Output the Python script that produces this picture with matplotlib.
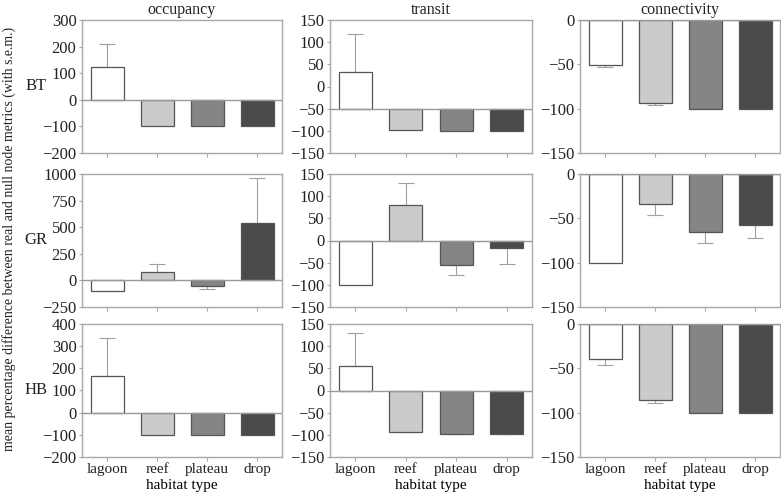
import matplotlib
matplotlib.use("Agg")
import matplotlib.pyplot as plt
import numpy as np

plt.rcParams['font.family'] = ['Liberation Serif', 'DejaVu Serif']

categories = ["lagoon", "reef", "plateau", "drop"]
metrics = ["occupancy", "transit", "connectivity"]
species = ["BT", "GR", "HB"]
colors = ["#ffffff", "#cbcbcb", "#858588", "#4a4a4a"]

# mean values per (species, metric)
bt_occupancy = [125, -100, -100, -100]
bt_occupancy_sem = [85, 0, 0, 0]
bt_transit = [33, -99, -100, -100]
bt_transit_sem = [85, 0, 0, 0]
bt_connectivity = [-51, -94, -100, -100]
bt_connectivity_sem = [2, 2, 0, 0]

gr_occupancy = [-100, 80, -50, 540]
gr_occupancy_sem = [0, 70, 30, 425]
gr_transit = [-100, 80, -55, -18]
gr_transit_sem = [0, 50, 22, 36]
gr_connectivity = [-100, -34, -65, -57]
gr_connectivity_sem = [0, 12, 13, 15]

hb_occupancy = [165, -100, -100, -100]
hb_occupancy_sem = [170, 0, 0, 0]
hb_transit = [55, -93, -98, -98]
hb_transit_sem = [75, 1, 1, 1]
hb_connectivity = [-39, -86, -100, -100]
hb_connectivity_sem = [7, 3, 0, 0]

values = [[bt_occupancy, bt_transit, bt_connectivity],
          [gr_occupancy, gr_transit, gr_connectivity],
          [hb_occupancy, hb_transit, hb_connectivity]]
sems = [[bt_occupancy_sem, bt_transit_sem, bt_connectivity_sem],
        [gr_occupancy_sem, gr_transit_sem, gr_connectivity_sem],
        [hb_occupancy_sem, hb_transit_sem, hb_connectivity_sem]]
baselines = [[0, -50, 0], [0, 0, 0], [0, 0, 0]]
yticks = [[np.arange(-200, 301, 100), np.arange(-150, 151, 50), np.arange(-150, 1, 50)],
          [np.arange(-250, 1001, 250), np.arange(-150, 151, 50), np.arange(-150, 1, 50)],
          [np.arange(-200, 401, 100), np.arange(-150, 151, 50), np.arange(-150, 1, 50)]]

W, H = 781, 493
fig = plt.figure(figsize=(W / 100, H / 100), dpi=100)

col_x = [(82, 282), (330, 532), (580, 780)]
row_y = [(20, 153), (174, 307), (324, 457)]
spine_c = "#a8a8a8"
fs = 12
txt_c = "#222222"

x = np.arange(len(categories))
for r in range(3):
    for c in range(3):
        x0, x1 = col_x[c]
        y0, y1 = row_y[r]
        ax = fig.add_axes([x0 / W, 1 - y1 / H, (x1 - x0) / W, (y1 - y0) / H])
        vals = np.array(values[r][c], dtype=float)
        sem = np.array(sems[r][c], dtype=float)
        base = baselines[r][c]
        ax.bar(x, vals - base, bottom=base, width=0.66, color=colors,
               edgecolor="#555555", linewidth=0.9, zorder=2)
        for xi, v, s in zip(x, vals, sem):
            if s <= 0:
                continue
            if v >= base:
                ax.errorbar([xi], [v], yerr=[[0], [s]], fmt="none", ecolor="#a0a0a0",
                            elinewidth=0.8, capsize=5.5, capthick=0.8, zorder=1)
            else:
                ax.errorbar([xi], [v], yerr=[[s], [0]], fmt="none", ecolor="#a0a0a0",
                            elinewidth=0.8, capsize=5.5, capthick=0.8, zorder=1)
        ax.axhline(base, color="#999999", linewidth=1.0, zorder=3)
        yt = yticks[r][c]
        ax.set_ylim(yt[0], yt[-1])
        ax.set_yticks(yt)
        ax.set_yticklabels([f"{v}".replace("-", "\u2212") for v in yt], fontsize=fs)
        ax.set_xlim(-0.5, 3.5)
        ax.set_xticks(x)
        if r == 2:
            ax.set_xticklabels(categories, fontsize=11)
            ax.set_xlabel("habitat type", fontsize=11, va="baseline")
            ax.xaxis.set_label_coords(0.5, -32 / (y1 - y0))
        else:
            ax.set_xticklabels([])
        for sp in ax.spines.values():
            sp.set_color(spine_c)
            sp.set_linewidth(1.0)
        ax.tick_params(axis="both", colors=spine_c, length=3, width=0.8, labelcolor=txt_c, pad=1)
        ax.tick_params(axis="y", length=2, pad=2)
        if r == 0:
            ax.set_title(metrics[c], fontsize=11.5, pad=4, color=txt_c)
        if c == 0:
            fig.text(36 / W, 1 - ((y0 + y1) / 2) / H, species[r], fontsize=fs,
                     ha="center", va="center", color=txt_c)

fig.text(9 / W, 1 - ((20 + 457) / 2) / H,
         "mean percentage difference between real and null node metrics (with s.e.m.)",
         rotation=90, fontsize=10, ha="center", va="center", color=txt_c)

fig.savefig("out.png", dpi=100)
